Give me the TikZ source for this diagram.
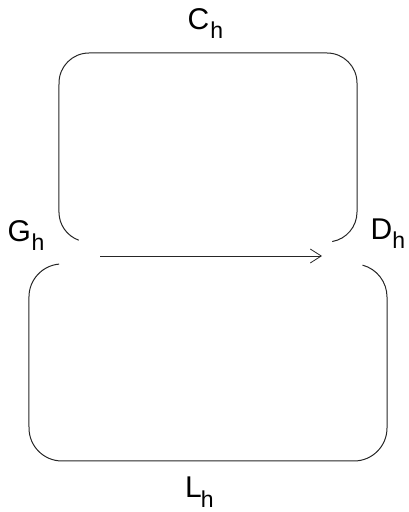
\documentclass[tikz,border=0pt]{standalone}
\usepackage{fontspec}
\setmainfont{Liberation Sans}
\usetikzlibrary{arrows.meta}
\newcommand{\subtxt}[1]{\raisebox{-9pt}{\fontsize{23}{27}\selectfont #1}}
\begin{document}
\begin{tikzpicture}[x=1pt, y=1pt, >={Straight Barb[length=11pt, width=14pt]},
		font=\fontsize{30}{36}\selectfont,
		curve/.style={line width=1pt, black!85},
		lbl/.style={anchor=base west, inner sep=0pt}]
		\useasboundingbox (0,0) rectangle (409,512);
		
		% upper loop
		\draw[curve] (78.7,271.8) arc[start angle=250, end angle=180, radius=30]
			-- (59,429) arc[start angle=180, end angle=90, radius=30]
			-- (327,459) arc[start angle=90, end angle=0, radius=30]
			-- (357,300) arc[start angle=0, end angle=-80, radius=30];
		
		% lower loop
		\draw[curve] (59.1,247.9) arc[start angle=95, end angle=180, radius=33]
			-- (29,84) arc[start angle=180, end angle=270, radius=33]
			-- (354,51) arc[start angle=270, end angle=360, radius=33]
			-- (387,215) arc[start angle=0, end angle=75, radius=33];
		
		% arrow
		\coordinate (arrowstart) at (100,256);
		\coordinate (arrowend) at (322,256);
		\draw[->, line width=0.8pt, black!85] (arrowstart) -- (arrowend);
		
		% labels
		\node[lbl] (ch) at (187.5,482) {C\kern1pt\subtxt{h}};
		\node[lbl] (gh) at (7.5,270) {G\kern0.5pt\subtxt{h}};
		\node[lbl] (dh) at (370.5,272) {D\subtxt{h}};
		\node[lbl] (lh) at (185,14) {L\kern-1pt\subtxt{h}};
	\end{tikzpicture}
\end{document}
